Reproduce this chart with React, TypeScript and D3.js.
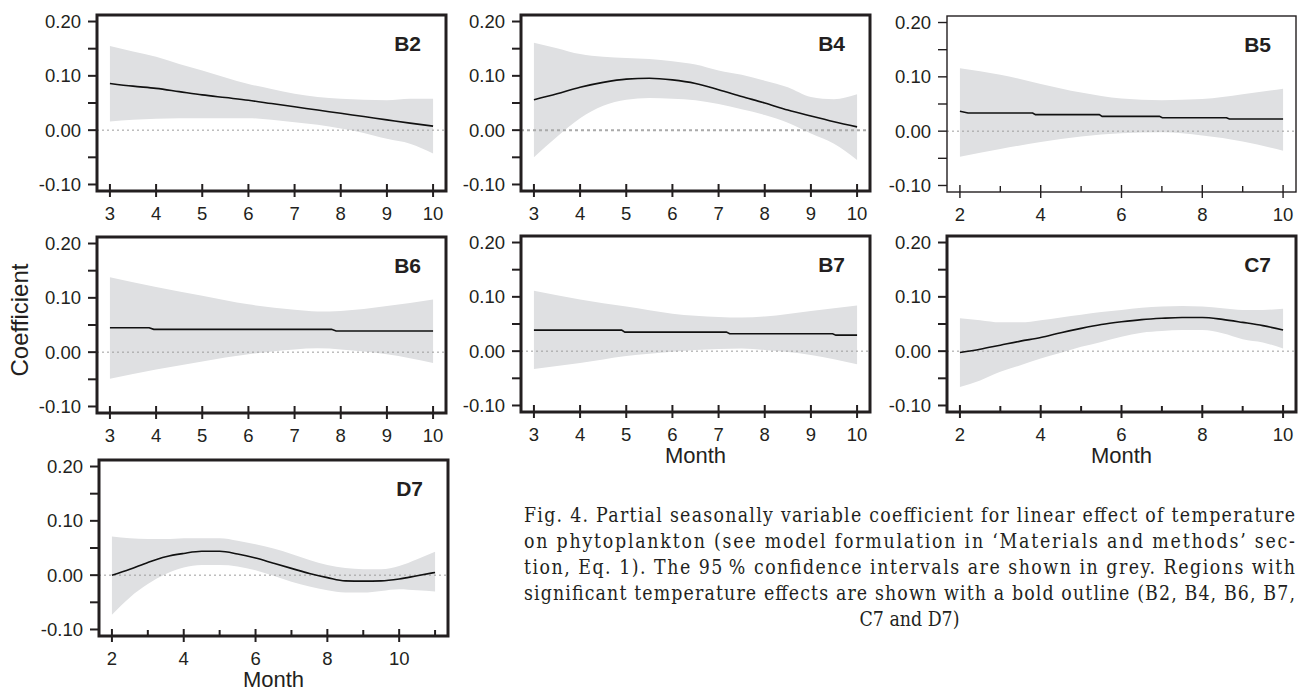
import React from 'react';
import * as d3 from 'd3';

// month grids
const halfSteps3to10 = [3, 3.5, 4, 4.5, 5, 5.5, 6, 6.5, 7, 7.5, 8, 8.5, 9, 9.5, 10];
const halfSteps2to10 = [2, 2.5, 3, 3.5, 4, 4.5, 5, 5.5, 6, 6.5, 7, 7.5, 8, 8.5, 9, 9.5, 10];
const halfSteps2to11 = [2, 2.5, 3, 3.5, 4, 4.5, 5, 5.5, 6, 6.5, 7, 7.5, 8, 8.5, 9, 9.5, 10, 10.5, 11];
const bandMonths2to10 = [2, 3, 4, 5, 6, 7, 8, 9, 10];
const bandMonths3to10 = [3, 4, 5, 6, 7, 7.5, 8, 9, 10];

// B2
const b2Fit = [0.086, 0.081, 0.077, 0.071, 0.065, 0.06, 0.055, 0.049, 0.043, 0.037, 0.031, 0.025, 0.019, 0.013, 0.0075];
const b2Upper = [0.155, 0.145, 0.135, 0.122, 0.11, 0.097, 0.085, 0.076, 0.067, 0.061, 0.058, 0.056, 0.055, 0.058, 0.058];
const b2Lower = [0.016, 0.019, 0.021, 0.022, 0.022, 0.022, 0.022, 0.019, 0.0145, 0.01, 0.003, -0.005, -0.016, -0.025, -0.043];

// B4
const b4Fit = [0.056, 0.067, 0.079, 0.088, 0.094, 0.0955, 0.0925, 0.086, 0.0745, 0.062, 0.05, 0.037, 0.026, 0.0155, 0.006];
const b4Upper = [0.161, 0.151, 0.14, 0.135, 0.133, 0.131, 0.127, 0.121, 0.11, 0.102, 0.091, 0.079, 0.061, 0.057, 0.066];
const b4Lower = [-0.05, -0.012, 0.022, 0.045, 0.056, 0.059, 0.058, 0.055, 0.048, 0.0385, 0.028, 0.0137, -0.006, -0.025, -0.055];

// B5
const b5Upper = [0.116, 0.104, 0.087, 0.071, 0.06, 0.057, 0.059, 0.068, 0.078];
const b5Lower = [-0.047, -0.033, -0.02, -0.01, -0.004, -0.002, -0.008, -0.019, -0.036];
const b5FitMonths = [2, 2.2, 3.8, 3.87, 5.45, 5.52, 6.94, 7.01, 8.6, 8.67, 10];
const b5Fit = [0.0366, 0.0335, 0.0335, 0.0304, 0.0304, 0.0273, 0.0273, 0.0248, 0.0248, 0.0224, 0.0224];

// B6
const b6Upper = [0.138, 0.12, 0.104, 0.088, 0.078, 0.075, 0.076, 0.085, 0.097];
const b6Lower = [-0.049, -0.032, -0.017, -0.004, 0.005, 0.007, 0.005, -0.004, -0.02];
const b6FitMonths = [3, 3.85, 3.95, 7.8, 7.9, 10];
const b6Fit = [0.045, 0.045, 0.042, 0.042, 0.039, 0.039];

// B7
const b7Upper = [0.111, 0.095, 0.082, 0.069, 0.063, 0.062, 0.064, 0.074, 0.084];
const b7Lower = [-0.033, -0.022, -0.009, -0.001, 0.004, 0.005, 0.002, -0.007, -0.024];
const b7FitMonths = [3, 4.9, 4.97, 7.17, 7.24, 9.47, 9.54, 10];
const b7Fit = [0.0387, 0.0387, 0.035, 0.035, 0.032, 0.032, 0.0295, 0.0295];

// C7
const c7Fit = [-0.0025, 0.0035, 0.011, 0.0185, 0.025, 0.034, 0.042, 0.049, 0.054, 0.058, 0.0605, 0.062, 0.062, 0.0585, 0.053, 0.047, 0.039];
const c7Upper = [0.0605, 0.057, 0.053, 0.053, 0.057, 0.062, 0.067, 0.072, 0.076, 0.08, 0.082, 0.083, 0.082, 0.079, 0.076, 0.076, 0.078];
const c7Lower = [-0.066, -0.054, -0.038, -0.026, -0.0135, -0.003, 0.008, 0.017, 0.0265, 0.034, 0.037, 0.039, 0.039, 0.033, 0.022, 0.016, 0.005];

// D7
const d7Fit = [0, 0.011, 0.0235, 0.034, 0.04, 0.044, 0.044, 0.039, 0.0315, 0.022, 0.0125, 0.003, -0.0045, -0.0105, -0.011, -0.0105, -0.007, -0.001, 0.005];
const d7Upper = [0.071, 0.068, 0.0665, 0.0665, 0.068, 0.068, 0.068, 0.0635, 0.057, 0.049, 0.039, 0.028, 0.0185, 0.013, 0.011, 0.011, 0.017, 0.0295, 0.043];
const d7Lower = [-0.073, -0.041, -0.0165, 0.002, 0.014, 0.0185, 0.0185, 0.016, 0.009, -0.0012, -0.012, -0.021, -0.028, -0.032, -0.032, -0.029, -0.026, -0.028, -0.03];

// ticks
const yMajorTicks = [-0.1, 0, 0.1, 0.2];
const yMinorTicks = [-0.05, 0.05, 0.15];
const monthTicks3to10 = [3, 4, 5, 6, 7, 8, 9, 10];
const evenTicks2to10 = [2, 4, 6, 8, 10];
const oddTicks2to10 = [3, 5, 7, 9];
const oddTicks2to11 = [3, 5, 7, 9, 11];

const captionLines = [
  'Fig. 4. Partial seasonally variable coefficient for linear effect of temperature',
  'on phytoplankton (see model formulation in \u2018Materials and methods\u2019 sec-',
  'tion, Eq. 1). The 95\u2009% confidence intervals are shown in grey. Regions with',
  'significant temperature effects are shown with a bold outline (B2, B4, B6, B7,',
];
const captionLast = 'C7 and D7)';

const panels = [
  { id: 'B2', left: 97, top: 15, bold: true, xr: [3, 10], bandX: halfSteps3to10, upper: b2Upper, lower: b2Lower, fitX: halfSteps3to10, fit: b2Fit, major: monthTicks3to10, minor: [], smooth: true, month: false },
  { id: 'B4', left: 521, top: 15, bold: true, xr: [3, 10], bandX: halfSteps3to10, upper: b4Upper, lower: b4Lower, fitX: halfSteps3to10, fit: b4Fit, major: monthTicks3to10, minor: [], smooth: true, month: false, heavyZero: true },
  { id: 'B5', left: 947, top: 16, bold: false, xr: [2, 10], bandX: bandMonths2to10, upper: b5Upper, lower: b5Lower, fitX: b5FitMonths, fit: b5Fit, major: evenTicks2to10, minor: oddTicks2to10, smooth: false, month: false },
  { id: 'B6', left: 97, top: 237, bold: true, xr: [3, 10], bandX: bandMonths3to10, upper: b6Upper, lower: b6Lower, fitX: b6FitMonths, fit: b6Fit, major: monthTicks3to10, minor: [], smooth: false, month: false },
  { id: 'B7', left: 521, top: 236, bold: true, xr: [3, 10], bandX: bandMonths3to10, upper: b7Upper, lower: b7Lower, fitX: b7FitMonths, fit: b7Fit, major: monthTicks3to10, minor: [], smooth: false, month: true },
  { id: 'C7', left: 947, top: 236, bold: true, xr: [2, 10], bandX: halfSteps2to10, upper: c7Upper, lower: c7Lower, fitX: halfSteps2to10, fit: c7Fit, major: evenTicks2to10, minor: oddTicks2to10, smooth: true, month: true },
  { id: 'D7', left: 99, top: 460, bold: true, xr: [2, 11], bandX: halfSteps2to11, upper: d7Upper, lower: d7Lower, fitX: halfSteps2to11, fit: d7Fit, major: evenTicks2to10, minor: oddTicks2to11, smooth: true, month: true },
];

const W = 349;
const H = 176;
const ink = '#231f20';
const sans = '"Liberation Sans", Arial, Helvetica, sans-serif';
const serif = '"DejaVu Serif", serif';

function Panel({ p }) {
  const span = p.xr[1] - p.xr[0];
  const x = d3.scaleLinear().domain([p.xr[0] - span * 0.04, p.xr[1] + span * 0.04]).range([p.left, p.left + W]);
  const y = d3.scaleLinear().domain([-0.112, 0.212]).range([p.top + H, p.top]);
  const bottom = p.top + H;

  const band = d3.area<number>()
    .x((d, i) => x(p.bandX[i]))
    .y0((d, i) => y(p.lower[i]))
    .y1((d) => y(d))
    .curve(d3.curveMonotoneX);
  const line = d3.line<number>()
    .x((d, i) => x(p.fitX[i]))
    .y((d) => y(d))
    .curve(p.smooth ? d3.curveMonotoneX : d3.curveLinear);

  const frameW = p.bold ? 3 : 1.4;
  const tickW = p.bold ? 2 : 1.4;

  return (
    <g>
      <path d={band(p.upper) || ''} fill="#dfe0e2" />
      <line x1={p.left} x2={p.left + W} y1={y(0)} y2={y(0)}
        stroke={p.heavyZero ? '#a9a9a9' : '#9d9d9d'}
        strokeWidth={p.heavyZero ? 2 : 1}
        strokeDasharray={p.heavyZero ? '3,3' : '2,3'} />
      <path d={line(p.fit) || ''} fill="none" stroke="#111" strokeWidth={1.6} />
      <rect x={p.left} y={p.top} width={W} height={H} fill="none" stroke={ink} strokeWidth={frameW} />

      {yMajorTicks.concat(yMinorTicks).map((t) => (
        <line key={'yt' + t} x1={p.left - 9} x2={p.left} y1={y(t)} y2={y(t)} stroke={ink} strokeWidth={tickW} />
      ))}
      {yMajorTicks.map((t) => (
        <text key={'yl' + t} x={p.left - 16} y={y(t)} dy="0.36em" textAnchor="end"
          fontFamily={sans} fontSize={18.5} fill={ink}>{d3.format('.2f')(t).replace('−', '-')}</text>
      ))}

      {p.major.map((t) => (
        <g key={'xt' + t}>
          <line x1={x(t)} x2={x(t)} y1={bottom - 7} y2={bottom + 6} stroke={ink} strokeWidth={tickW} />
          <text x={x(t)} y={bottom + 29} textAnchor="middle" fontFamily={sans} fontSize={18.5} fill={ink}>{t}</text>
        </g>
      ))}
      {p.minor.map((t) => (
        <line key={'xm' + t} x1={x(t)} x2={x(t)} y1={bottom - 6} y2={bottom} stroke={ink} strokeWidth={tickW} />
      ))}

      <text x={p.left + W - 25} y={p.top + 36} textAnchor="end" fontFamily={sans} fontWeight="bold" fontSize={21} fill={ink}>{p.id}</text>
      {p.month && (
        <text x={p.left + W / 2} y={bottom + 51} textAnchor="middle" fontFamily={sans} fontSize={22} fill={ink}>Month</text>
      )}
    </g>
  );
}

export default function App() {
  const capLeft = 524;
  const capWidth = 771;
  const squeeze = 0.87;
  const localWidth = capWidth / squeeze;
  return (
    <svg width={1306} height={691} style={{ position: 'absolute', left: 0, top: 0, background: '#fff' }}>
      <rect width={1306} height={691} fill="#fff" />
      {panels.map((p) => <Panel key={p.id} p={p} />)}
      <text transform="translate(28,320) rotate(-90)" textAnchor="middle" fontFamily={sans} fontSize={24} fill={ink}>Coefficient</text>
      <g transform={`translate(${capLeft},0) scale(${squeeze},1)`}>
        {captionLines.map((s, i) => (
          <text key={i} x={0} y={522 + i * 26} textLength={localWidth} lengthAdjust="spacing"
            fontFamily={serif} fontSize={20} fill={ink}>{s}</text>
        ))}
        <text x={localWidth / 2} y={522 + 4 * 26} textAnchor="middle" fontFamily={serif}
          fontSize={20} fill={ink}>{captionLast}</text>
      </g>
    </svg>
  );
}
